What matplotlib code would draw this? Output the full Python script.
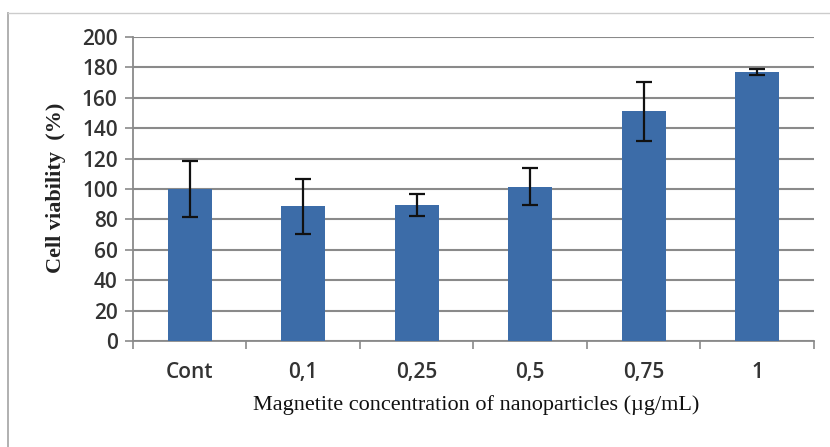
import numpy as np
import matplotlib
matplotlib.use('Agg')
import matplotlib.pyplot as plt
from matplotlib.lines import Line2D

categories = ['Cont', '0,1', '0,25', '0,5', '0,75', '1']
viability = [100, 88.5, 89.5, 101.5, 151, 177]
errors = [18.5, 18, 7, 12, 19.5, 2]

fig = plt.figure(figsize=(8.3, 4.47), dpi=100)
ax = fig.add_axes([0.1602, 0.2371, 0.8205, 0.6801])

x = np.arange(len(categories))
ax.bar(x, viability, width=0.39, color='#3c6ca8', zorder=3)
ax.errorbar(x, viability, yerr=errors, fmt='none', ecolor='#111111',
            elinewidth=1.6, capsize=5.5, capthick=1.6, zorder=4)

ax.set_xlim(-0.5, len(categories) - 0.5)
ax.set_ylim(0, 200)
ax.set_yticks(range(0, 201, 20))
ax.yaxis.grid(True, color='#8a8a8a', linewidth=1.5, zorder=0)
ax.set_axisbelow(True)

# category boundary ticks like Excel
ax.set_xticks(np.arange(-0.5, len(categories), 1))
ax.set_xticklabels([])
ax.set_xticks(x, minor=True)
ax.set_xticklabels(categories, minor=True, fontsize=15, family='Open Sans',
                   fontweight='semibold', color='#333333')
ax.tick_params(axis='x', which='major', length=6, width=1.2, color='#8a8a8a', direction='out')
ax.tick_params(axis='x', which='minor', length=0, pad=15)
ax.tick_params(axis='y', length=6, width=1.2, color='#8a8a8a', pad=5)
for lab in ax.get_yticklabels():
    lab.set_fontsize(15)
    lab.set_family('Open Sans')
    lab.set_fontweight('semibold')
    lab.set_color('#333333')

for s in ['top', 'right']:
    ax.spines[s].set_visible(False)
ax.spines['left'].set_color('#8a8a8a')
ax.spines['bottom'].set_color('#8a8a8a')
ax.spines['left'].set_linewidth(1.3)
ax.spines['bottom'].set_linewidth(1.3)

ax.set_ylabel('Cell viability  (%)', family='Liberation Serif', fontweight='bold',
              fontsize=16, color='#222222')
ax.yaxis.set_label_coords(-0.098, 0.505)
fig.text(0.574, 0.094, 'Magnetite concentration of nanoparticles (\u00b5g/mL)',
         family='Liberation Serif', fontsize=16, ha='center', va='center', color='#111111')

# outer frame (left and top edges visible)
fig.add_artist(Line2D([0.0102, 0.0102], [0.0, 0.971], color='#aaaaaa', lw=1.3, transform=fig.transFigure))
fig.add_artist(Line2D([0.0102, 1.0], [0.971, 0.971], color='#cccccc', lw=1.0, transform=fig.transFigure))

fig.savefig('out.png', dpi=100)
